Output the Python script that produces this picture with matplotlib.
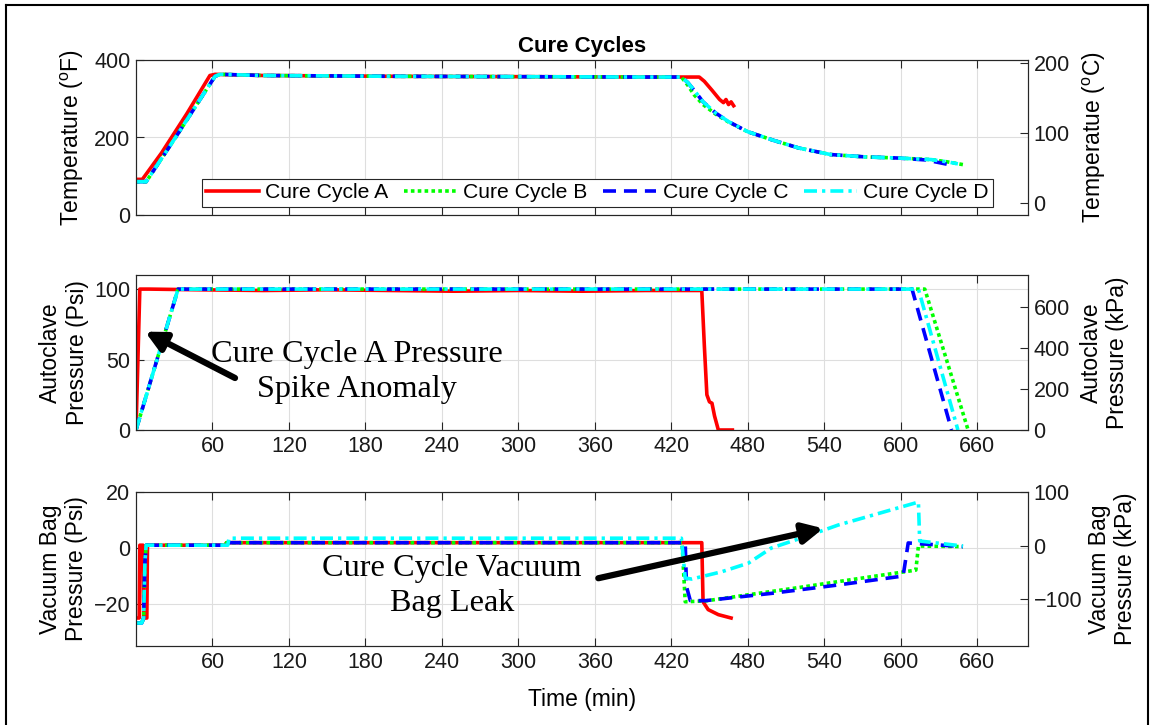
import matplotlib
matplotlib.use("Agg")
import matplotlib.pyplot as plt
from matplotlib.lines import Line2D

plt.rcParams['font.family'] = ['Liberation Sans', 'DejaVu Sans']
plt.rcParams['mathtext.fontset'] = 'custom'
plt.rcParams['mathtext.rm'] = 'Liberation Sans'
plt.rcParams['mathtext.it'] = 'Liberation Sans:italic'

# ---------------- data ----------------
labels = ['Cure Cycle A', 'Cure Cycle B', 'Cure Cycle C', 'Cure Cycle D']
xticks = [60, 120, 180, 240, 300, 360, 420, 480, 540, 600, 660]

# Temperature (F)
temp_t_A = [0, 5, 20, 40, 58, 62, 100, 200, 300, 400, 442, 446, 452, 458, 461, 463, 465, 467, 469]
temp_A = [92, 92, 160, 262, 360, 363, 360, 358, 357, 356, 356, 345, 322, 298, 290, 298, 285, 292, 282]
temp_t_B = [0, 8, 30, 62, 66, 100, 200, 300, 400, 428, 433, 438, 445, 455, 465, 480, 500, 520, 545, 572, 598, 624, 637, 649]
temp_B = [86, 86, 195, 358, 363, 360, 358, 357, 356, 356, 335, 310, 285, 260, 240, 215, 193, 173, 156, 150, 147, 143, 137, 130]
temp_t_C = [0, 8, 30, 62, 66, 100, 200, 300, 400, 428, 433, 438, 445, 455, 465, 480, 500, 520, 545, 572, 598, 620, 632, 638]
temp_C = [86, 86, 195, 358, 363, 360, 358, 357, 356, 356, 342, 322, 292, 263, 241, 215, 193, 173, 156, 150, 147, 142, 134, 130]
temp_t_D = [0, 8, 30, 62, 66, 100, 200, 300, 400, 428, 433, 438, 445, 455, 465, 480, 500, 520, 545, 572, 598, 624, 637, 645]
temp_D = [86, 86, 195, 358, 363, 360, 358, 357, 356, 356, 342, 322, 292, 263, 241, 215, 193, 173, 156, 150, 147, 143, 137, 132]

# Autoclave pressure (psi)
ac_t_A = [0, 3, 10, 50, 100, 150, 200, 250, 300, 350, 400, 444, 446, 448, 450, 452, 454, 457, 468]
ac_A = [0, 100, 100, 99.5, 99, 99.5, 99, 98.5, 99, 98.5, 99, 99, 60, 25, 20, 19, 10, 0, 0]
ac_t_B = [0, 33, 100, 200, 300, 400, 500, 619, 653]
ac_B = [0, 100, 100, 100, 100, 100, 100, 100, 0]
ac_t_C = [0, 33, 100, 200, 300, 400, 500, 609, 640]
ac_C = [0, 100, 100, 100, 100, 100, 100, 100, 0]
ac_t_D = [0, 33, 100, 200, 300, 400, 500, 614, 645]
ac_D = [0, 100, 100, 100, 100, 100, 100, 100, 0]

# Vacuum bag pressure (psi)
vb_t_A = [0, 2.5, 3, 5.5, 6, 8.5, 9, 70, 71, 444, 445, 449, 457, 467]
vb_A = [-25, -25, 1.0, 1.0, -25, -25, 1.0, 1.0, 1.9, 1.9, -19.2, -22, -23.8, -25]
vb_t_B = [0, 4.5, 6, 7, 8, 70, 71, 428.5, 431, 447, 525, 551, 612, 614, 649]
vb_B = [-26.8, -26.8, -25, -5, 1.0, 1.0, 1.9, 1.9, -19.2, -18.9, -13.8, -12, -7.9, 0.7, 0.5]
vb_t_C = [0, 4.5, 6, 7, 8, 70, 71, 431, 432, 435, 447, 498.7, 551, 602, 606, 649]
vb_C = [-26.8, -26.8, -25, -5, 1.0, 1.0, 1.9, 1.9, -13.8, -18.8, -18.8, -16.2, -13.2, -10, 1.8, 0.5]
vb_t_D = [0, 4.5, 6, 7, 8, 72, 73, 428, 431, 436, 459.5, 480.6, 498.6, 525, 551, 614, 615, 649]
vb_D = [-26.8, -26.8, -25, -5, 1.0, 1.0, 3.5, 3.5, -10.7, -11.1, -8.5, -5.4, 0, 4.0, 8.2, 16.4, 2.5, 0.7]

# ---------------- styles ----------------
W, H = 1154, 725
styles = [
    dict(color=(1, 0, 0), lw=2.6, ls='-'),
    dict(color=(0, 1, 0), lw=2.6, dashes=(1, 0.9)),
    dict(color=(0, 0, 1), lw=2.6, dashes=(3.6, 2.2)),
    dict(color=(0, 1, 1), lw=2.6, dashes=(3.6, 1.4, 0.9, 1.4)),
]
TFS = 15.5   # tick labels
LFS = 16.5   # axis labels
gray = (0.15, 0.15, 0.15)
gridc = '#dedede'

fig = plt.figure(figsize=(W / 100, H / 100), dpi=100)


def make_axes(top_px, bot_px):
    ax = fig.add_axes([136 / W, 1 - bot_px / H, 892 / W, (bot_px - top_px) / H])
    ax.set_xlim(0, 700)
    ax.set_xticks(xticks)
    ax.set_axisbelow(True)
    ax.grid(True, color=gridc, lw=0.8)
    ax.tick_params(direction='in', length=6, width=0.8, colors=gray, labelsize=TFS,
                   top=True, right=False, labelcolor=(0.1, 0.1, 0.1), pad=4)
    for s in ax.spines.values():
        s.set_color(gray)
        s.set_linewidth(0.8)
    return ax


def make_twin(ax):
    tw = ax.twinx()
    tw.tick_params(direction='in', length=6, width=0.8, colors=gray, labelsize=TFS,
                   labelcolor=(0.1, 0.1, 0.1), pad=4)
    for s in tw.spines.values():
        s.set_color(gray)
        s.set_linewidth(0.8)
    return tw


# ---- top panel ----
ax1 = make_axes(60, 215)
for t, v, st, lb in zip([temp_t_A, temp_t_B, temp_t_C, temp_t_D],
                        [temp_A, temp_B, temp_C, temp_D], styles, labels):
    ax1.plot(t, v, label=lb, **st)
ax1.set_ylim(0, 400)
ax1.set_yticks([0, 200, 400])
ax1.set_xticklabels([])
ax1.set_ylabel(r'Temperature ($^{\mathrm{o}}$F)', fontsize=LFS, labelpad=6)
ax1.set_title('Cure Cycles', fontweight='bold', fontsize=LFS - 0.5, pad=6)
tw1 = make_twin(ax1)
tw1.set_ylim((0 - 32) * 5 / 9, (400 - 32) * 5 / 9)
tw1.set_yticks([0, 100, 200])
tw1.set_ylabel(r'Temperatue ($^{\mathrm{o}}$C)', fontsize=LFS, labelpad=8)
leg = ax1.legend(loc='center', bbox_to_anchor=(0.517, 0.142), ncol=4, fontsize=15.2,
                 frameon=True, fancybox=False, edgecolor=gray, framealpha=1,
                 handlelength=2.5, columnspacing=0.75, handletextpad=0.3, borderpad=0.2,
                 borderaxespad=0)
leg.get_frame().set_linewidth(0.8)
leg.set_zorder(10)

# ---- middle panel ----
ax2 = make_axes(275, 430)
for t, v, st in zip([ac_t_A, ac_t_B, ac_t_C, ac_t_D], [ac_A, ac_B, ac_C, ac_D], styles):
    ax2.plot(t, v, **st)
ax2.set_ylim(0, 110)
ax2.set_yticks([0, 50, 100])
ax2.set_xticklabels([str(x) for x in xticks])
ax2.set_ylabel('Autoclave\nPressure (Psi)', fontsize=LFS, labelpad=4)
tw2 = make_twin(ax2)
tw2.set_ylim(0, 110 * 6.895)
tw2.set_yticks([0, 200, 400, 600])
tw2.set_ylabel('Autoclave\nPressure (kPa)', fontsize=LFS, labelpad=7)
ax2.annotate('', xy=(7.1, 69.8), xytext=(77.7, 36.9),
             arrowprops=dict(arrowstyle='-|>', lw=4.5, color='k', mutation_scale=30,
                             shrinkA=0, shrinkB=0))
ax2.text(173.4, 41.2, 'Cure Cycle A Pressure\nSpike Anomaly', ha='center', va='center',
         multialignment='center', fontsize=23.2, family='Liberation Serif', linespacing=1.25)

# ---- bottom panel ----
ax3 = make_axes(492, 646)
for t, v, st in zip([vb_t_A, vb_t_B, vb_t_C, vb_t_D], [vb_A, vb_B, vb_C, vb_D], styles):
    ax3.plot(t, v, **st)
ax3.set_ylim(-35, 20)
ax3.set_yticks([-20, 0, 20])
ax3.set_xticklabels([str(x) for x in xticks])
ax3.set_ylabel('Vacuum Bag\nPressure (Psi)', fontsize=LFS, labelpad=4)
ax3.set_xlabel('Time (min)', fontsize=LFS, labelpad=11)
tw3 = make_twin(ax3)
tw3.set_ylim(-187, 100)
tw3.set_yticks([-100, 0, 100])
tw3.set_ylabel('Vacuum Bag\nPressure (kPa)', fontsize=LFS, labelpad=4)
ax3.annotate('', xy=(539.4, 7.0), xytext=(362.8, -10.8),
             arrowprops=dict(arrowstyle='-|>', lw=4.5, color='k', mutation_scale=30,
                             shrinkA=0, shrinkB=0))
ax3.text(248, -13.6, 'Cure Cycle Vacuum\nBag Leak', ha='center', va='center',
         multialignment='center', fontsize=23.2, family='Liberation Serif', linespacing=1.25)

# figure border
fig.add_artist(Line2D([6 / W, 6 / W], [0, 1 - 5 / H], color='k', lw=1.5, transform=fig.transFigure))
fig.add_artist(Line2D([6 / W, 1148 / W], [1 - 5 / H, 1 - 5 / H], color='k', lw=1.5, transform=fig.transFigure))
fig.add_artist(Line2D([1148 / W, 1148 / W], [0, 1 - 5 / H], color='k', lw=1.5, transform=fig.transFigure))

fig.savefig('out.png', dpi=100)
